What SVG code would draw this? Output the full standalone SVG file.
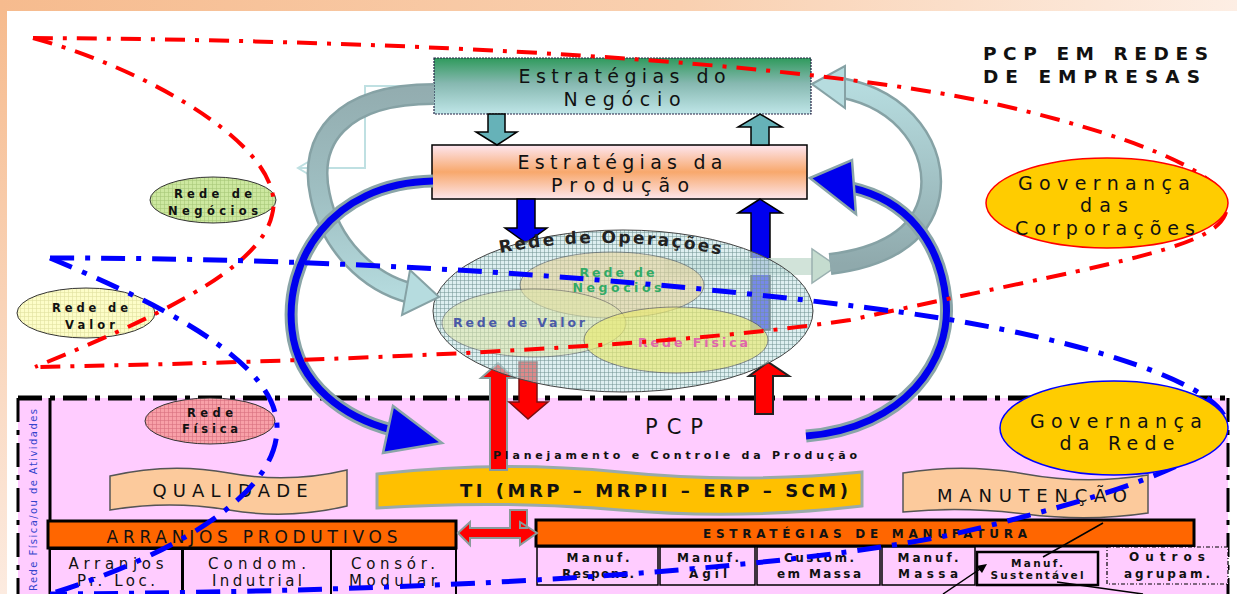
<svg xmlns="http://www.w3.org/2000/svg" width="1237" height="594" viewBox="0 0 1237 594">
<defs>
<linearGradient id="frame" x1="0" y1="0" x2="1" y2="0">
<stop offset="0" stop-color="#f6bb8e"/><stop offset="0.55" stop-color="#f9d0b0"/><stop offset="1" stop-color="#fdeee4"/>
</linearGradient>
<linearGradient id="leftStrip" x1="0" y1="0" x2="0" y2="1">
<stop offset="0" stop-color="#f6bb8e"/><stop offset="1" stop-color="#fcebe0"/>
</linearGradient>
<linearGradient id="gNeg" x1="0" y1="0" x2="0" y2="1">
<stop offset="0" stop-color="#2f9a5c"/><stop offset="0.45" stop-color="#86b8b0"/><stop offset="1" stop-color="#bfe6e8"/>
</linearGradient>
<linearGradient id="gProd" x1="0" y1="0" x2="0" y2="1">
<stop offset="0" stop-color="#fde6f0"/><stop offset="0.5" stop-color="#f8a86c"/><stop offset="1" stop-color="#fde6ec"/>
</linearGradient>
<linearGradient id="gLeft" gradientUnits="userSpaceOnUse" x1="0" y1="90" x2="0" y2="300">
<stop offset="0" stop-color="#93adb0"/><stop offset="0.5" stop-color="#9fbfc2"/><stop offset="1" stop-color="#b6dcdf"/>
</linearGradient>
<linearGradient id="gRight" gradientUnits="userSpaceOnUse" x1="0" y1="85" x2="0" y2="265">
<stop offset="0" stop-color="#b6dcdf"/><stop offset="0.5" stop-color="#a3c3c6"/><stop offset="1" stop-color="#8fa9ac"/>
</linearGradient>
<pattern id="grid" width="4" height="4" patternUnits="userSpaceOnUse">
<path d="M0,0.5H4M0.5,0V4" stroke="#6f9090" stroke-width="0.5" fill="none"/>
</pattern>
<pattern id="gridG" width="4" height="4" patternUnits="userSpaceOnUse">
<rect width="4" height="4" fill="#cde8a0"/>
<path d="M0,0.5H4M0.5,0V4" stroke="#a8c878" stroke-width="0.6" fill="none"/>
</pattern>
<pattern id="gridY" width="4" height="4" patternUnits="userSpaceOnUse">
<rect width="4" height="4" fill="#fdfdc8"/>
<path d="M0,0.5H4M0.5,0V4" stroke="#e0e0a0" stroke-width="0.6" fill="none"/>
</pattern>
<pattern id="gridR" width="4" height="4" patternUnits="userSpaceOnUse">
<rect width="4" height="4" fill="#f8a0a8"/>
<path d="M0,0.5H4M0.5,0V4" stroke="#d87080" stroke-width="0.6" fill="none"/>
</pattern>
</defs>
<style>
.t{font-family:"DejaVu Sans","Liberation Sans",Arial,sans-serif;fill:#111;}
.b{font-weight:bold;}
.rd{fill:none;stroke:#ff0000;stroke-width:4;stroke-dasharray:20 10 4 10;}
.bl{fill:none;stroke:#0000ff;stroke-width:5;stroke-dasharray:24 11 5 11;}
.blk{fill:none;stroke:#000;stroke-width:5;stroke-dasharray:24 8 5 8;}
.cell{fill:#ffccff;stroke:#000;stroke-width:2;}
.bar{fill:#ff6600;stroke:#000;stroke-width:3;}
.ban{fill:#fcca9c;stroke:#555;stroke-width:1.5;}
.gov{fill:#ffcc00;}
.blueA{fill:#0000ee;stroke:#000;stroke-width:1.5;}
.tealA{fill:#66b2b8;stroke:#000;stroke-width:1.5;}
.redA{fill:#ff0000;stroke:#8a9a9a;stroke-width:2;}
</style>

<!-- background -->
<rect x="0" y="0" width="1237" height="594" fill="url(#frame)"/>
<rect x="0" y="11" width="7" height="583" fill="url(#leftStrip)"/>
<rect x="7" y="11" width="1230" height="583" fill="#ffffff"/>

<!-- PCP region -->
<g id="pcp-area">
<rect x="18" y="398" width="1210" height="196" fill="#ffccff"/>
<line x1="18" y1="398" x2="1228" y2="398" class="blk"/>
<line x1="18" y1="398" x2="18" y2="594" class="blk" style="stroke-width:3"/>
<line x1="1228" y1="398" x2="1228" y2="594" class="blk" style="stroke-width:3"/>
<line x1="50" y1="398" x2="50" y2="594" stroke="#000" stroke-width="3"/>
<text class="t" transform="translate(37,500) rotate(-90)" text-anchor="middle" font-size="10" style="fill:#3344cc" textLength="182">Rede Física/ou de Atividades</text>
</g>

<g id="qualidade">
<path class="ban" d="M110,476 Q170,462 229,473 T347,470 L347,506 Q288,520 229,510 T110,510 Z"/>
<text class="t" x="230" y="497" text-anchor="middle" font-size="18" textLength="155">QUALIDADE</text>
</g>
<g id="ti">
<path d="M377,474 Q500,460 620,472 T862,472 L862,506 Q740,520 620,510 T377,508 Z" fill="#ffc000" stroke="#99aaaa" stroke-width="3"/>
<text class="t b" x="654" y="497" text-anchor="middle" font-size="18" textLength="388">TI (MRP – MRPII – ERP – SCM)</text>
</g>
<g id="manutencao">
<path class="ban" d="M903,473 Q965,463 1025,474 T1148,475 L1148,513 Q1088,522 1025,514 T903,512 Z"/>
<text class="t" x="1032" y="502" text-anchor="middle" font-size="18" textLength="190">MANUTENÇÃO</text>
</g>

<g id="arranjos">
<rect class="bar" x="48" y="521" width="408" height="27"/>
<text class="t" x="252" y="543" text-anchor="middle" font-size="17" textLength="291">ARRANJOS PRODUTIVOS</text>
<rect class="cell" x="50" y="549" width="132" height="47"/>
<rect class="cell" x="183" y="549" width="148" height="47"/>
<rect class="cell" x="331" y="549" width="125" height="47"/>
<text class="t" x="116" y="569" text-anchor="middle" font-size="15" textLength="95">Arranjos</text>
<text class="t" x="116" y="586" text-anchor="middle" font-size="15" textLength="78">Pr. Loc.</text>
<text class="t" x="257" y="569" text-anchor="middle" font-size="15" textLength="98">Condom.</text>
<text class="t" x="257" y="586" text-anchor="middle" font-size="15" textLength="90">Indutrial</text>
<text class="t" x="393" y="569" text-anchor="middle" font-size="15" textLength="84">Consór.</text>
<text class="t" x="393" y="586" text-anchor="middle" font-size="15" textLength="88">Modular</text>
</g>

<g id="estrategias-manufatura">
<rect class="bar" x="536" y="520" width="658" height="26"/>
<text class="t b" x="865" y="538" text-anchor="middle" font-size="12" textLength="324">ESTRATÉGIAS DE MANUFATURA</text>
<rect class="cell" x="537" y="547" width="121" height="38" style="stroke-width:1.5"/>
<rect class="cell" x="660" y="547" width="95" height="38" style="stroke-width:1.5"/>
<rect class="cell" x="757" y="547" width="123" height="38" style="stroke-width:1.5"/>
<rect class="cell" x="882" y="547" width="93" height="38" style="stroke-width:1.5"/>
<rect class="cell" x="977" y="552" width="121" height="33" style="stroke-width:2.5"/>
<rect x="1107" y="547" width="121" height="37" fill="#ffccff" stroke="#000" stroke-width="1.2" stroke-dasharray="4 2 1 2"/>
<text class="t b" x="598" y="562" text-anchor="middle" font-size="12" textLength="63">Manuf.</text>
<text class="t b" x="598" y="578" text-anchor="middle" font-size="12" textLength="72">Respons.</text>
<text class="t b" x="708" y="562" text-anchor="middle" font-size="12" textLength="62">Manuf.</text>
<text class="t b" x="708" y="578" text-anchor="middle" font-size="12" textLength="38">Ágil</text>
<text class="t b" x="819" y="562" text-anchor="middle" font-size="12" textLength="70">Custom.</text>
<text class="t b" x="819" y="578" text-anchor="middle" font-size="12" textLength="84">em Massa</text>
<text class="t b" x="928" y="562" text-anchor="middle" font-size="12" textLength="61">Manuf.</text>
<text class="t b" x="928" y="578" text-anchor="middle" font-size="12" textLength="60">Massa</text>
<text class="t b" x="1037" y="567" text-anchor="middle" font-size="10.5" textLength="52">Manuf.</text>
<text class="t b" x="1037" y="579" text-anchor="middle" font-size="10.5" textLength="93">Sustentável</text>
<text class="t b" x="1167" y="561" text-anchor="middle" font-size="12" textLength="76">Outros</text>
<text class="t b" x="1167" y="578" text-anchor="middle" font-size="12" textLength="86">agrupam.</text>
</g>

<!-- top boxes -->
<g id="estrategias-negocio">
<rect x="434" y="58" width="377" height="56" fill="url(#gNeg)" stroke="#224" stroke-width="1.2" stroke-dasharray="2 1"/>
<text class="t" x="622" y="83" text-anchor="middle" font-size="19" textLength="207">Estratégias do</text>
<text class="t" x="622" y="106" text-anchor="middle" font-size="19" textLength="117">Negócio</text>
</g>
<g id="estrategias-producao">
<rect x="432" y="145" width="375" height="54" fill="url(#gProd)" stroke="#000" stroke-width="1.5"/>
<text class="t" x="620" y="169" text-anchor="middle" font-size="19" textLength="205">Estratégias da</text>
<text class="t" x="620" y="192" text-anchor="middle" font-size="19" textLength="138">Produção</text>
</g>

<!-- straight arrows -->
<g id="connectors">
<polygon class="tealA" points="488,114 505,114 505,132 517,132 497,145 476,132 488,132"/>
<polygon class="tealA" points="751,145 769,145 769,127 782,127 760,114 738,127 751,127"/>
<polygon class="blueA" points="517,199 535,199 535,228 547,228 526,243 505,228 517,228"/>
<polygon class="blueA" points="751,330 770,330 770,213 782,213 760,199 738,213 751,213"/>
<polygon class="redA" points="490,470 507,470 507,378 514,378 498,363 481,378 490,378"/>
<polygon class="redA" points="510,510 527,510 527,528 520,528 520,522 537,533 520,545 520,538 470,538 470,545 458,533 470,522 470,528 510,528"/>
<polygon points="519,362 537,362 537,402 548,402 528,419 509,402 519,402" fill="#ff0000" stroke="#7a1010" stroke-width="1.5"/>
<polygon class="redA" points="755,414 773,414 773,376 789,376 768,362 749,376 755,376" style="stroke:#222"/>
<polyline points="434,86 365,86 365,168 298,168" fill="none" stroke="#bfe0e2" stroke-width="2"/>
<polyline points="308,162 298,168 308,174" fill="none" stroke="#bfe0e2" stroke-width="2"/>
<rect x="665" y="258" width="148" height="17" fill="#c5dccf" opacity="0.8"/>
<polygon points="837,266 812,249 812,283" fill="#c5dccf" stroke="#9ab0b0" stroke-width="1.5"/>
<line x1="1103" y1="523" x2="1043" y2="557" stroke="#000" stroke-width="1.5"/>
<line x1="943" y1="594" x2="983" y2="567" stroke="#000" stroke-width="1.5"/>
<polygon points="987,564 976,566 982,573" fill="#000"/>
<line x1="1057" y1="582" x2="1143" y2="594" stroke="#000" stroke-width="1.5"/>
</g>

<g id="pcp-label">
<text class="t" x="674" y="434" text-anchor="middle" font-size="21" textLength="58">PCP</text>
<text class="t b" x="675" y="459" text-anchor="middle" font-size="11" textLength="364">Planejamento e Controle da Produção</text>
</g>

<!-- rede de operacoes -->
<g id="rede-operacoes">
<ellipse cx="623" cy="311" rx="190" ry="81" fill="#c6e4e6" opacity="0.6"/>
<ellipse cx="623" cy="311" rx="190" ry="81" fill="url(#grid)" stroke="#444" stroke-width="1"/>
<path id="arcOp" d="M500,253 Q614,231 732,257" fill="none"/>
<text class="t b" font-size="17" style="fill:#222"><textPath href="#arcOp" textLength="222">Rede de Operações</textPath></text>
</g>
<g id="rede-negocios-inner">
<ellipse cx="612" cy="285" rx="92" ry="33" fill="#e8d49a" opacity="0.6" stroke="#555" stroke-width="1"/>
<text class="t b" x="617" y="277" text-anchor="middle" font-size="12.5" style="fill:#33aa66" textLength="75">Rede de</text>
<text class="t b" x="617" y="292" text-anchor="middle" font-size="12.5" style="fill:#33aa66" textLength="89">Negócios</text>
</g>
<g id="rede-valor-inner">
<ellipse cx="534" cy="323" rx="92" ry="34" fill="#dfe6a8" opacity="0.55" stroke="#555" stroke-width="1"/>
<text class="t b" x="519" y="327" text-anchor="middle" font-size="12.5" style="fill:#4a5aa8" textLength="132">Rede de Valor</text>
</g>
<g id="rede-fisica-inner">
<ellipse cx="676" cy="340" rx="92" ry="33" fill="#eaea70" opacity="0.65" stroke="#555" stroke-width="1"/>
<text class="t b" x="693" y="347" text-anchor="middle" font-size="12.5" style="fill:#e066aa" textLength="110">Rede Física</text>
</g>

<!-- curved arrows -->
<g id="curved-arrows">
<path d="M434,94 C340,94 308,140 320,195 C330,245 368,282 410,293" fill="none" stroke="#86a2a5" stroke-width="22"/>
<path d="M434,94 C340,94 308,140 320,195 C330,245 368,282 410,293" fill="none" stroke="url(#gLeft)" stroke-width="17"/>
<polygon points="439,297 410,270 402,315" fill="#b6dcdf" stroke="#86a2a5" stroke-width="2"/>
<path d="M842,88 C905,100 938,150 930,195 C922,238 880,258 830,264" fill="none" stroke="#86a2a5" stroke-width="22"/>
<path d="M842,88 C905,100 938,150 930,195 C922,238 880,258 830,264" fill="none" stroke="url(#gRight)" stroke-width="17"/>
<polygon points="812,84 845,66 845,108" fill="#b6dcdf" stroke="#86a2a5" stroke-width="2"/>
<path d="M433,181 C330,183 284,262 292,330 C298,385 345,418 392,430" fill="none" stroke="#8aa5a8" stroke-width="13"/>
<path d="M433,181 C330,183 284,262 292,330 C298,385 345,418 392,430" fill="none" stroke="#0000ee" stroke-width="7"/>
<polygon points="442,443 393,406 383,453" fill="#0000ee" stroke="#8aa5a8" stroke-width="2.5"/>
<path d="M806,436 C905,428 952,360 946,300 C940,240 905,200 852,188" fill="none" stroke="#8aa5a8" stroke-width="13"/>
<path d="M806,436 C905,428 952,360 946,300 C940,240 905,200 852,188" fill="none" stroke="#0000ee" stroke-width="7"/>
<polygon points="810,178 852,160 856,214" fill="#0000ee" stroke="#8aa5a8" stroke-width="2.5"/>
</g>

<!-- small ellipses -->
<g id="rede-negocios">
<ellipse cx="213" cy="200" rx="63" ry="23" fill="url(#gridG)" stroke="#333" stroke-width="1"/>
<text class="t b" x="213" y="198" text-anchor="middle" font-size="11.5" textLength="78">Rede de</text>
<text class="t b" x="213" y="215" text-anchor="middle" font-size="11.5" textLength="90">Negócios</text>
</g>
<g id="rede-valor">
<ellipse cx="86" cy="313" rx="69" ry="25" fill="url(#gridY)" stroke="#333" stroke-width="1"/>
<text class="t b" x="90" y="312" text-anchor="middle" font-size="11.5" textLength="76">Rede de</text>
<text class="t b" x="90" y="329" text-anchor="middle" font-size="11.5" textLength="50">Valor</text>
</g>
<g id="rede-fisica">
<ellipse cx="210" cy="421" rx="65" ry="23" fill="url(#gridR)" stroke="#333" stroke-width="1"/>
<text class="t b" x="210" y="417" text-anchor="middle" font-size="11.5" textLength="46">Rede</text>
<text class="t b" x="210" y="433" text-anchor="middle" font-size="11.5" textLength="56">Física</text>
</g>

<!-- dash-dot boundaries -->
<g id="boundaries">
<path class="rd" d="M33,38 C150,70 290,150 272,215 C260,270 150,320 35,367"/>
<path class="rd" d="M33,38 C400,40 800,60 1000,105 C1150,140 1240,180 1225,215 C1210,250 1100,265 850,320 C650,350 300,362 35,367"/>
<path class="bl" d="M50,258 C150,300 280,360 277,430 C275,500 160,560 50,594"/>
<path class="bl" d="M50,258 C400,258 700,285 900,312 C1100,340 1230,390 1226,425 C1222,460 1100,500 950,535 C750,575 400,592 50,594"/>
</g>

<g id="gov-corporacoes">
<ellipse class="gov" cx="1107" cy="203" rx="121" ry="45" stroke="#ff0000" stroke-width="1.5"/>
<text class="t" x="1104" y="190" text-anchor="middle" font-size="19" textLength="172">Governança</text>
<text class="t" x="1104" y="212" text-anchor="middle" font-size="19" textLength="48">das</text>
<text class="t" x="1105" y="235" text-anchor="middle" font-size="19" textLength="180">Corporações</text>
</g>
<g id="gov-rede">
<ellipse class="gov" cx="1114" cy="428" rx="114" ry="47" stroke="#0000ff" stroke-width="1.5"/>
<text class="t" x="1116" y="428" text-anchor="middle" font-size="19" textLength="172">Governança</text>
<text class="t" x="1117" y="450" text-anchor="middle" font-size="19" textLength="115">da Rede</text>
</g>

<g id="title">
<text class="t b" x="983" y="60" font-size="18.5" textLength="225">PCP EM REDES</text>
<text class="t b" x="983" y="83" font-size="18.5" textLength="217">DE EMPRESAS</text>
</g>
</svg>
